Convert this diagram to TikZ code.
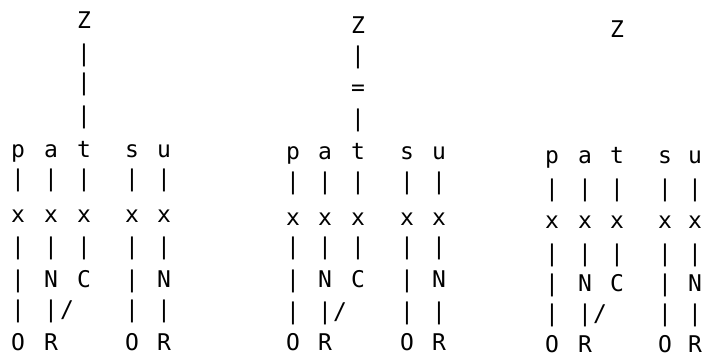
\documentclass[tikz,border=0pt]{standalone}
\usepackage{fontspec}
\newfontfamily\chfont{DejaVu Sans Mono}
\tikzset{ch/.style={inner sep=0pt, outer sep=0pt, anchor=base, text=black,
  font=\chfont\fontsize{23bp}{23bp}\selectfont}}
\newcommand\chr[4]{\node[ch] (#1) at (#2,#3) {#4};}
% lower part of one tree; #1 = prefix of node names
\newcommand\paneltree[1]{%
  \chr{#1p}{\cA}{\rP}{p}\chr{#1a}{\cB}{\rP}{a}\chr{#1t}{\cC}{\rP}{t}\chr{#1s}{\cD}{\rP}{s}\chr{#1u}{\cE}{\rP}{u}%
  \chr{#1ba}{\cA}{\rB}{|}\chr{#1bb}{\cB}{\rB}{|}\chr{#1bc}{\cC}{\rB}{|}\chr{#1bd}{\cD}{\rB}{|}\chr{#1be}{\cE}{\rB}{|}%
  \chr{#1xa}{\cA}{\rX}{x}\chr{#1xb}{\cB}{\rX}{x}\chr{#1xc}{\cC}{\rX}{x}\chr{#1xd}{\cD}{\rX}{x}\chr{#1xe}{\cE}{\rX}{x}%
  \chr{#1ca}{\cA}{\rBB}{|}\chr{#1cb}{\cB}{\rBB}{|}\chr{#1cc}{\cC}{\rBB}{|}\chr{#1cd}{\cD}{\rBB}{|}\chr{#1ce}{\cE}{\rBB}{|}%
  \chr{#1na}{\cA}{\rN}{|}\chr{#1nb}{\cB}{\rN}{N}\chr{#1nc}{\cC}{\rN}{C}\chr{#1nd}{\cD}{\rN}{|}\chr{#1ne}{\cE}{\rN}{N}%
  \chr{#1da}{\cA}{\rD}{|}\chr{#1db}{\cB}{\rD}{|}\chr{#1ds}{\cS}{\rD}{/}\chr{#1dd}{\cD}{\rD}{|}\chr{#1de}{\cE}{\rD}{|}%
  \chr{#1oa}{\cA}{\rO}{O}\chr{#1ob}{\cB}{\rO}{R}\chr{#1od}{\cD}{\rO}{O}\chr{#1oe}{\cE}{\rO}{R}%
}
\begin{document}
\begin{tikzpicture}[x=1bp,y=-1bp]
\fill[white] (0,0) rectangle (704,356);
\useasboundingbox (0,0) rectangle (704,356);
% ---- tree 1
\def\cA{18}\def\cB{51}\def\cC{84}\def\cD{132}\def\cE{164}\def\cS{67}
\def\rP{157}\def\rB{186}\def\rX{222}\def\rBB{254}\def\rN{287}\def\rD{317}\def\rO{350}
\chr{Az}{\cC}{28}{Z}
\chr{Ay1}{\cC}{61}{|}
\chr{Ay2}{\cC}{90}{|}
\chr{Ay3}{\cC}{123}{|}
\paneltree{A}
% ---- tree 2
\def\cA{293}\def\cB{325}\def\cC{358}\def\cD{407}\def\cE{439}\def\cS{340}
\def\rP{159}\def\rB{189}\def\rX{225}\def\rBB{254}\def\rN{287}\def\rD{319}\def\rO{350}
\chr{Bz}{\cC}{33}{Z}
\chr{By1}{\cC}{63}{|}
\chr{By2}{\cC}{95}{=}
\chr{By3}{\cC}{126}{|}
\paneltree{B}
% ---- tree 3
\def\cA{552}\def\cB{585}\def\cC{617}\def\cD{665}\def\cE{695}\def\cS{600}
\def\rP{163}\def\rB{196}\def\rX{228}\def\rBB{261}\def\rN{291}\def\rD{321}\def\rO{352}
\chr{Cz}{\cC}{37}{Z}
\paneltree{C}
\end{tikzpicture}
\end{document}
